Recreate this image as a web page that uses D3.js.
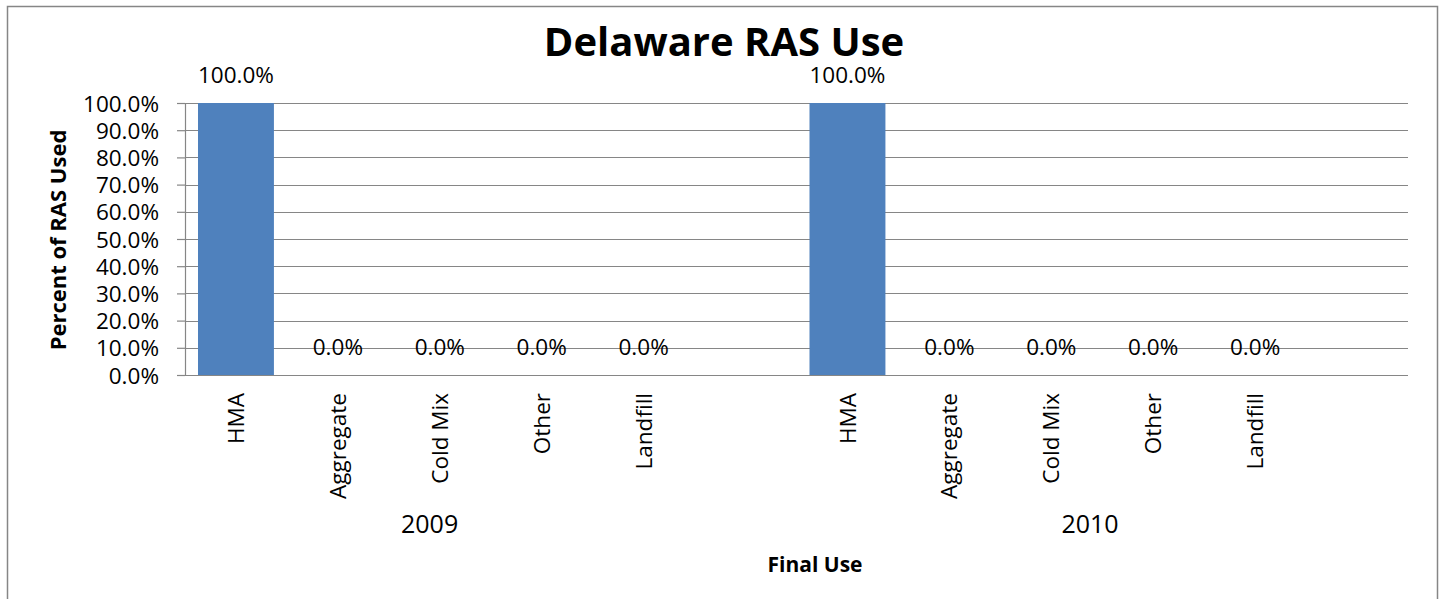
<!DOCTYPE html>
<html>
<head>
<meta charset="utf-8">
<script src="https://cdn.jsdelivr.net/npm/d3@7"></script>
<style>
  html, body { margin: 0; padding: 0; background: #fff; }
  svg { display: block; }
  text { font-family: "Open Sans", "Liberation Sans", sans-serif; fill: #000; }
</style>
</head>
<body>
<svg id="chart" width="1443" height="599"></svg>
<script>
// ---- data ----
const years = ["2009", "2010"];
const categories = ["HMA", "Aggregate", "Cold Mix", "Other", "Landfill"];
const values2009 = [100, 0, 0, 0, 0];
const values2010 = [100, 0, 0, 0, 0];
const yTickValues = [0, 10, 20, 30, 40, 50, 60, 70, 80, 90, 100];
const chartTitle = "Delaware RAS Use";
const yAxisTitle = "Percent of RAS Used";
const xAxisTitle = "Final Use";

// ---- build rows ----
const seriesByYear = [values2009, values2010];
const slots = [];
years.forEach((yr, gi) => {
  categories.forEach((c, ci) => slots.push({ key: yr + "|" + c, year: yr, cat: c, value: seriesByYear[gi][ci] }));
  slots.push({ key: yr + "|blank", year: yr, cat: null, value: null });
});
const bars = slots.filter(d => d.cat !== null);

// ---- layout ----
const W = 1443, H = 599;
const plot = { left: 185, right: 1408, top: 103, bottom: 375 };
const svg = d3.select("#chart");

svg.append("rect").attr("x", 0).attr("y", 0).attr("width", W).attr("height", H).attr("fill", "#fff");
svg.append("rect").attr("x", 7.5).attr("y", 6.5).attr("width", 1430).attr("height", 620)
  .attr("fill", "none").attr("stroke", "#868686").attr("stroke-width", 1.5);

const x = d3.scaleBand().domain(slots.map(d => d.key))
  .range([plot.left, plot.right]).paddingInner(0.255).paddingOuter(0.1275);
const y = d3.scaleLinear().domain([0, 100]).range([plot.bottom, plot.top]);

// gridlines
svg.append("g").selectAll("line").data(yTickValues.filter(v => v > 0)).join("line")
  .attr("x1", plot.left).attr("x2", plot.right)
  .attr("y1", d => Math.round(y(d)) + 0.5).attr("y2", d => Math.round(y(d)) + 0.5)
  .attr("stroke", "#868686").attr("stroke-width", 1.2);

// bars
svg.append("g").selectAll("rect").data(bars).join("rect")
  .attr("x", d => x(d.key)).attr("width", x.bandwidth())
  .attr("y", d => y(d.value)).attr("height", d => y(0) - y(d.value))
  .attr("fill", "#4F81BD");

// y axis
const yAxis = d3.axisLeft(y).tickValues(yTickValues).tickSize(8).tickPadding(18)
  .tickFormat(d => d3.format(".1f")(d) + "%");
const gy = svg.append("g").attr("transform", `translate(${plot.left},0)`).call(yAxis);
gy.select(".domain").attr("stroke", "#868686").attr("stroke-width", 1.2);
gy.selectAll(".tick line").attr("stroke", "#868686").attr("stroke-width", 1.2);
gy.selectAll(".tick text").style("font-size", "22.5px").attr("dy", "0.36em")
  .style("font-family", "'Open Sans', sans-serif");

// x axis baseline
svg.append("line").attr("x1", plot.left - 8).attr("x2", plot.right)
  .attr("y1", y(0) + 0.5).attr("y2", y(0) + 0.5)
  .attr("stroke", "#868686").attr("stroke-width", 1.2);

// data labels
svg.append("g").selectAll("text").data(bars).join("text")
  .attr("x", d => x(d.key) + x.bandwidth() / 2)
  .attr("y", d => y(d.value) - 20)
  .attr("text-anchor", "middle")
  .style("font-size", "22.5px")
  .text(d => d3.format(".1f")(d.value) + "%");

// category labels (rotated)
svg.append("g").selectAll("text").data(bars).join("text")
  .attr("transform", d => `translate(${x(d.key) + x.bandwidth() / 2},${plot.bottom + 18}) rotate(-90)`)
  .attr("text-anchor", "end").attr("dy", "0.36em")
  .style("font-size", "22.5px")
  .text(d => d.cat);

// year labels
const yearOffsets = [2.4, 2.88]; // in category steps from group start
years.forEach((yr, gi) => {
  const start = x(yr + "|" + categories[0]) - x.step() * x.paddingOuter();
  svg.append("text")
    .attr("x", start + x.step() * yearOffsets[gi])
    .attr("y", 533)
    .attr("text-anchor", "middle")
    .style("font-size", "25px")
    .text(yr);
});

// titles
svg.append("text").attr("x", 724).attr("y", 56).attr("text-anchor", "middle")
  .style("font-size", "40px").style("font-weight", "bold").text(chartTitle);
svg.append("text").attr("x", 815).attr("y", 572).attr("text-anchor", "middle")
  .style("font-size", "21px").style("font-weight", "bold").text(xAxisTitle);
svg.append("text").attr("transform", `translate(66,${(plot.top + plot.bottom) / 2 + 1}) rotate(-90)`)
  .attr("text-anchor", "middle")
  .style("font-size", "22px").style("font-weight", "bold").text(yAxisTitle);
</script>
</body>
</html>
